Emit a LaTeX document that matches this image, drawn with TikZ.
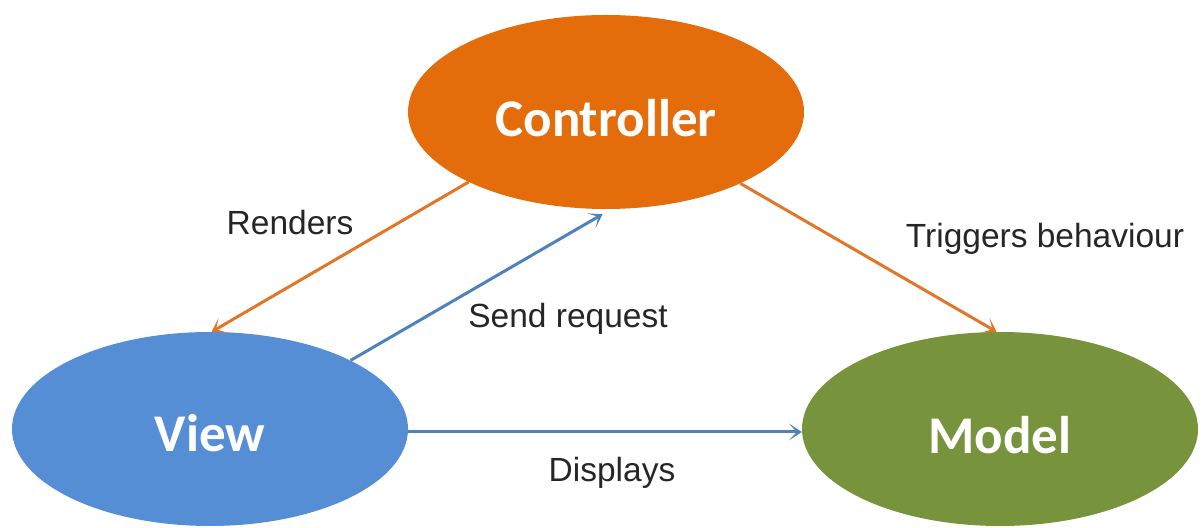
\documentclass[tikz,border=0pt]{standalone}
\usepackage{fontspec}
\setmainfont{Liberation Sans}
\newfontfamily\boxfont{Carlito}
\usetikzlibrary{shapes.geometric,arrows.meta,calc}

\definecolor{ctrlorange}{RGB}{228,108,10}
\definecolor{viewblue}{RGB}{85,142,213}
\definecolor{modelgreen}{RGB}{119,147,60}
\definecolor{linkorange}{RGB}{226,118,40}
\definecolor{linkblue}{RGB}{79,129,189}

\tikzset{
  mvcbox/.style={ellipse, inner sep=0pt, minimum width=396pt, minimum height=194pt},
  boxtext/.style={anchor=base, text=white, font=\boxfont\bfseries\fontsize{53}{60}\selectfont},
  linklabel/.style={anchor=base, text=black!85, font=\fontsize{33.5}{40}\selectfont},
  flow/.style={line width=3pt, -{Stealth[length=13pt, width=17pt, inset=8pt]}},
}

\begin{document}
\begin{tikzpicture}[x=1pt, y=1pt]
  \useasboundingbox (0,0) rectangle (1201,527);

  % the three components
  \node[mvcbox, fill=ctrlorange] (ctrl)  at (606,415) {};
  \node[mvcbox, fill=viewblue]   (view)  at (210,98)  {};
  \node[mvcbox, fill=modelgreen] (model) at (1000,98) {};

  \node[boxtext] (ctrltext)  at ($(ctrl)+(0,-25)$)  {Controller};
  \node[boxtext] (viewtext)  at ($(view)+(0,-23)$)  {View};
  \node[boxtext] (modeltext) at ($(model)+(0,-25)$) {Model};

  % interactions
  \draw[flow, linkorange] (ctrl.207) -- (view.89);
  \draw[flow, linkblue]   (view.26) -- ($(ctrl.268)+(0,-5)$);
  \draw[flow, linkorange] (ctrl.332) -- (model.92);
  \draw[flow, linkblue]   ($(view.east)+(0,-3)$) -- ($(model.west)+(0,-3)$);

  % interaction labels
  \node[linklabel] (renders)  at (290,292)  {Renders};
  \node[linklabel] (sendreq)  at (568,199)  {Send request};
  \node[linklabel] (triggers) at (1045,279) {Triggers behaviour};
  \node[linklabel] (displays) at (612,45)   {Displays};
\end{tikzpicture}
\end{document}
